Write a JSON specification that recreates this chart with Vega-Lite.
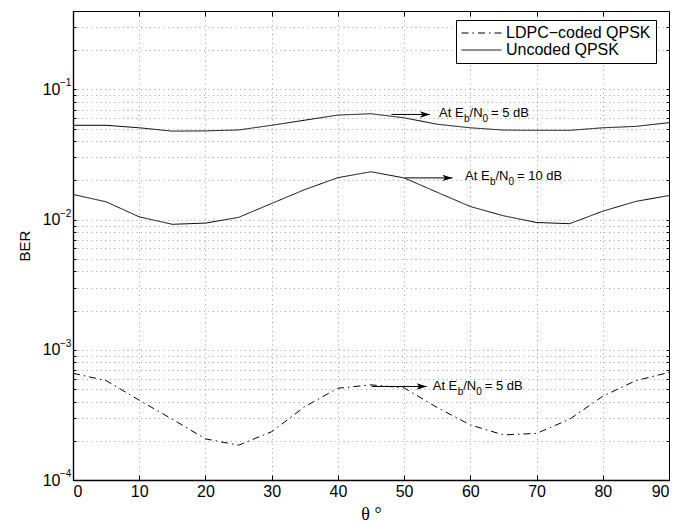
{
  "$schema": "https://vega.github.io/schema/vega-lite/v6.json",
  "width": 596,
  "height": 469,
  "autosize": {"type": "none"},
  "padding": {"left": 73, "top": 11, "right": 24, "bottom": 45},
  "background": "white",
  "config": {
    "view": {"stroke": "black", "strokeWidth": 1},
    "axis": {
      "labelFont": "Liberation Sans",
      "labelFontSize": 16,
      "labelColor": "black",
      "titleFont": "Liberation Sans",
      "titleFontSize": 15,
      "titleFontWeight": "normal",
      "titleColor": "black",
      "domainColor": "black",
      "domainWidth": 1.4,
      "tickColor": "black",
      "tickSize": -5,
      "tickWidth": 1,
      "gridColor": "black",
      "gridOpacity": 0.45,
      "gridDash": [1, 3.5],
      "gridWidth": 0.8
    },
    "legend": {
      "orient": "none",
      "legendX": 383,
      "legendY": 9,
      "strokeColor": "black",
      "fillColor": "white",
      "padding": 5,
      "symbolType": "stroke",
      "symbolStrokeColor": "black",
      "symbolStrokeWidth": 1,
      "symbolSize": 1600,
      "clipHeight": 16,
      "labelFont": "Liberation Sans",
      "labelFontSize": 16,
      "labelColor": "black",
      "labelOffset": 4,
      "rowPadding": 1
    }
  },
  "datasets": {
    "curves": [
      {"theta": 0, "ber": 0.00066, "curve": "coded5", "scheme": "LDPC−coded QPSK"},
      {"theta": 5, "ber": 0.00058, "curve": "coded5", "scheme": "LDPC−coded QPSK"},
      {"theta": 10, "ber": 0.00041, "curve": "coded5", "scheme": "LDPC−coded QPSK"},
      {"theta": 15, "ber": 0.000293, "curve": "coded5", "scheme": "LDPC−coded QPSK"},
      {"theta": 20, "ber": 0.000207, "curve": "coded5", "scheme": "LDPC−coded QPSK"},
      {"theta": 25, "ber": 0.000185, "curve": "coded5", "scheme": "LDPC−coded QPSK"},
      {"theta": 30, "ber": 0.000235, "curve": "coded5", "scheme": "LDPC−coded QPSK"},
      {"theta": 35, "ber": 0.000366, "curve": "coded5", "scheme": "LDPC−coded QPSK"},
      {"theta": 40, "ber": 0.000507, "curve": "coded5", "scheme": "LDPC−coded QPSK"},
      {"theta": 45, "ber": 0.000538, "curve": "coded5", "scheme": "LDPC−coded QPSK"},
      {"theta": 50, "ber": 0.00051, "curve": "coded5", "scheme": "LDPC−coded QPSK"},
      {"theta": 55, "ber": 0.00036, "curve": "coded5", "scheme": "LDPC−coded QPSK"},
      {"theta": 60, "ber": 0.000265, "curve": "coded5", "scheme": "LDPC−coded QPSK"},
      {"theta": 65, "ber": 0.000222, "curve": "coded5", "scheme": "LDPC−coded QPSK"},
      {"theta": 70, "ber": 0.000228, "curve": "coded5", "scheme": "LDPC−coded QPSK"},
      {"theta": 75, "ber": 0.000293, "curve": "coded5", "scheme": "LDPC−coded QPSK"},
      {"theta": 80, "ber": 0.00044, "curve": "coded5", "scheme": "LDPC−coded QPSK"},
      {"theta": 85, "ber": 0.00058, "curve": "coded5", "scheme": "LDPC−coded QPSK"},
      {"theta": 90, "ber": 0.00067, "curve": "coded5", "scheme": "LDPC−coded QPSK"},
      {"theta": 0, "ber": 0.053, "curve": "uncoded5", "scheme": "Uncoded QPSK"},
      {"theta": 5, "ber": 0.053, "curve": "uncoded5", "scheme": "Uncoded QPSK"},
      {"theta": 10, "ber": 0.0507, "curve": "uncoded5", "scheme": "Uncoded QPSK"},
      {"theta": 15, "ber": 0.0478, "curve": "uncoded5", "scheme": "Uncoded QPSK"},
      {"theta": 20, "ber": 0.048, "curve": "uncoded5", "scheme": "Uncoded QPSK"},
      {"theta": 25, "ber": 0.0488, "curve": "uncoded5", "scheme": "Uncoded QPSK"},
      {"theta": 30, "ber": 0.053, "curve": "uncoded5", "scheme": "Uncoded QPSK"},
      {"theta": 35, "ber": 0.058, "curve": "uncoded5", "scheme": "Uncoded QPSK"},
      {"theta": 40, "ber": 0.0635, "curve": "uncoded5", "scheme": "Uncoded QPSK"},
      {"theta": 45, "ber": 0.065, "curve": "uncoded5", "scheme": "Uncoded QPSK"},
      {"theta": 50, "ber": 0.0605, "curve": "uncoded5", "scheme": "Uncoded QPSK"},
      {"theta": 55, "ber": 0.054, "curve": "uncoded5", "scheme": "Uncoded QPSK"},
      {"theta": 60, "ber": 0.0507, "curve": "uncoded5", "scheme": "Uncoded QPSK"},
      {"theta": 65, "ber": 0.0487, "curve": "uncoded5", "scheme": "Uncoded QPSK"},
      {"theta": 70, "ber": 0.0485, "curve": "uncoded5", "scheme": "Uncoded QPSK"},
      {"theta": 75, "ber": 0.0485, "curve": "uncoded5", "scheme": "Uncoded QPSK"},
      {"theta": 80, "ber": 0.0507, "curve": "uncoded5", "scheme": "Uncoded QPSK"},
      {"theta": 85, "ber": 0.052, "curve": "uncoded5", "scheme": "Uncoded QPSK"},
      {"theta": 90, "ber": 0.0555, "curve": "uncoded5", "scheme": "Uncoded QPSK"},
      {"theta": 0, "ber": 0.0156, "curve": "uncoded10", "scheme": "Uncoded QPSK"},
      {"theta": 5, "ber": 0.0137, "curve": "uncoded10", "scheme": "Uncoded QPSK"},
      {"theta": 10, "ber": 0.0105, "curve": "uncoded10", "scheme": "Uncoded QPSK"},
      {"theta": 15, "ber": 0.0092, "curve": "uncoded10", "scheme": "Uncoded QPSK"},
      {"theta": 20, "ber": 0.0094, "curve": "uncoded10", "scheme": "Uncoded QPSK"},
      {"theta": 25, "ber": 0.0104, "curve": "uncoded10", "scheme": "Uncoded QPSK"},
      {"theta": 30, "ber": 0.0133, "curve": "uncoded10", "scheme": "Uncoded QPSK"},
      {"theta": 35, "ber": 0.017, "curve": "uncoded10", "scheme": "Uncoded QPSK"},
      {"theta": 40, "ber": 0.021, "curve": "uncoded10", "scheme": "Uncoded QPSK"},
      {"theta": 45, "ber": 0.0233, "curve": "uncoded10", "scheme": "Uncoded QPSK"},
      {"theta": 50, "ber": 0.0209, "curve": "uncoded10", "scheme": "Uncoded QPSK"},
      {"theta": 55, "ber": 0.0162, "curve": "uncoded10", "scheme": "Uncoded QPSK"},
      {"theta": 60, "ber": 0.0126, "curve": "uncoded10", "scheme": "Uncoded QPSK"},
      {"theta": 65, "ber": 0.0107, "curve": "uncoded10", "scheme": "Uncoded QPSK"},
      {"theta": 70, "ber": 0.0095, "curve": "uncoded10", "scheme": "Uncoded QPSK"},
      {"theta": 75, "ber": 0.0093, "curve": "uncoded10", "scheme": "Uncoded QPSK"},
      {"theta": 80, "ber": 0.0116, "curve": "uncoded10", "scheme": "Uncoded QPSK"},
      {"theta": 85, "ber": 0.0138, "curve": "uncoded10", "scheme": "Uncoded QPSK"},
      {"theta": 90, "ber": 0.0153, "curve": "uncoded10", "scheme": "Uncoded QPSK"}
    ],
    "arrows": [
      {"x1": 48.1, "x2": 53.9, "y": 0.0642},
      {"x1": 50.1, "x2": 57.3, "y": 0.0209},
      {"x1": 45.1, "x2": 53.4, "y": 0.000523}
    ],
    "mainText": [
      {"x": 55.27, "y": 0.0662, "text": "At E"},
      {"x": 59.88, "y": 0.0662, "text": "/N"},
      {"x": 63.12, "y": 0.0662, "text": "= 5 dB"},
      {"x": 59.2, "y": 0.02154, "text": "At E"},
      {"x": 63.8, "y": 0.02154, "text": "/N"},
      {"x": 67.05, "y": 0.02154, "text": "= 10 dB"},
      {"x": 54.32, "y": 0.000523, "text": "At E"},
      {"x": 58.93, "y": 0.000523, "text": "/N"},
      {"x": 62.17, "y": 0.000523, "text": "= 5 dB"}
    ],
    "subText": [
      {"x": 59.05, "y": 0.0662, "text": "b"},
      {"x": 61.84, "y": 0.0662, "text": "0"},
      {"x": 62.97, "y": 0.02154, "text": "b"},
      {"x": 65.77, "y": 0.02154, "text": "0"},
      {"x": 58.1, "y": 0.000523, "text": "b"},
      {"x": 60.89, "y": 0.000523, "text": "0"}
    ],
    "exponents": [
      {"theta": 0, "ber": 0.0001, "exp": "−4"},
      {"theta": 0, "ber": 0.001, "exp": "−3"},
      {"theta": 0, "ber": 0.01, "exp": "−2"},
      {"theta": 0, "ber": 0.1, "exp": "−1"}
    ]
  },
  "resolve": {"axis": {"x": "independent", "y": "independent"}},
  "layer": [
    {
      "data": {"name": "curves"},
      "mark": {"type": "line", "color": "black", "strokeWidth": 1},
      "encoding": {
        "x": {
          "field": "theta", "type": "quantitative",
          "scale": {"domain": [0, 90], "nice": false, "zero": false},
          "axis": {
            "values": [0, 10, 20, 30, 40, 50, 60, 70, 80, 90],
            "grid": true,
            "domain": true,
            "labelPadding": 8,
            "title": "θ  °",
            "titleFont": "Liberation Serif",
            "titleFontSize": 18,
            "titlePadding": 6
          }
        },
        "y": {
          "field": "ber", "type": "quantitative",
          "scale": {"type": "log", "domain": [0.0001, 0.4], "nice": false},
          "axis": {
            "values": [0.0001, 0.0002, 0.0003, 0.0004, 0.0005, 0.0006, 0.0007, 0.0008, 0.0009, 0.001, 0.002, 0.003, 0.004, 0.005, 0.006, 0.007, 0.008, 0.009, 0.01, 0.02, 0.03, 0.04, 0.05, 0.06, 0.07, 0.08, 0.09, 0.1, 0.2, 0.3, 0.4],
            "labelExpr": "datum.value === 0.0001 || datum.value === 0.001 || datum.value === 0.01 || datum.value === 0.1 ? '10' : ''",
            "grid": true,
            "domain": true,
            "tickSize": -3,
            "labelPadding": 16,
            "title": "BER",
            "titlePadding": 10
          }
        },
        "detail": {"field": "curve"},
        "strokeDash": {
          "field": "scheme", "type": "nominal",
          "scale": {"domain": ["LDPC−coded QPSK", "Uncoded QPSK"], "range": [[7, 4, 1.5, 4], [1, 0]]},
          "legend": {"title": null}
        }
      }
    },
    {
      "data": {"name": "curves"},
      "mark": {"type": "point", "opacity": 0},
      "encoding": {
        "x": {
          "field": "theta", "type": "quantitative",
          "axis": {"orient": "top", "values": [0, 10, 20, 30, 40, 50, 60, 70, 80, 90], "labels": false, "grid": false, "domain": false, "title": null}
        },
        "y": {
          "field": "ber", "type": "quantitative",
          "axis": {"orient": "right", "values": [0.0001, 0.0002, 0.0003, 0.0004, 0.0005, 0.0006, 0.0007, 0.0008, 0.0009, 0.001, 0.002, 0.003, 0.004, 0.005, 0.006, 0.007, 0.008, 0.009, 0.01, 0.02, 0.03, 0.04, 0.05, 0.06, 0.07, 0.08, 0.09, 0.1, 0.2, 0.3, 0.4], "labels": false, "grid": false, "domain": false, "tickSize": -3, "title": null}
        }
      }
    },
    {
      "data": {"name": "exponents"},
      "mark": {"type": "text", "align": "left", "baseline": "middle", "font": "Liberation Sans", "fontSize": 10, "dx": -13, "dy": -6, "color": "black"},
      "encoding": {
        "x": {"field": "theta", "type": "quantitative", "axis": null},
        "y": {"field": "ber", "type": "quantitative", "axis": null},
        "text": {"field": "exp"}
      }
    },
    {
      "data": {"name": "arrows"},
      "mark": {"type": "rule", "color": "black", "strokeWidth": 1},
      "encoding": {
        "x": {"field": "x1", "type": "quantitative", "axis": null},
        "x2": {"field": "x2"},
        "y": {"field": "y", "type": "quantitative", "axis": null}
      }
    },
    {
      "data": {"name": "arrows"},
      "mark": {"type": "point", "shape": "M0,0L-1,-0.32L-0.75,0L-1,0.32Z", "filled": true, "color": "black", "opacity": 1, "size": 400},
      "encoding": {
        "x": {"field": "x2", "type": "quantitative", "axis": null},
        "y": {"field": "y", "type": "quantitative", "axis": null}
      }
    },
    {
      "data": {"name": "mainText"},
      "mark": {"type": "text", "align": "left", "baseline": "middle", "font": "Liberation Sans", "fontSize": 13, "color": "black"},
      "encoding": {
        "x": {"field": "x", "type": "quantitative", "axis": null},
        "y": {"field": "y", "type": "quantitative", "axis": null},
        "text": {"field": "text"}
      }
    },
    {
      "data": {"name": "subText"},
      "mark": {"type": "text", "align": "left", "baseline": "middle", "font": "Liberation Sans", "fontSize": 10, "dy": 6, "color": "black"},
      "encoding": {
        "x": {"field": "x", "type": "quantitative", "axis": null},
        "y": {"field": "y", "type": "quantitative", "axis": null},
        "text": {"field": "text"}
      }
    }
  ]
}
